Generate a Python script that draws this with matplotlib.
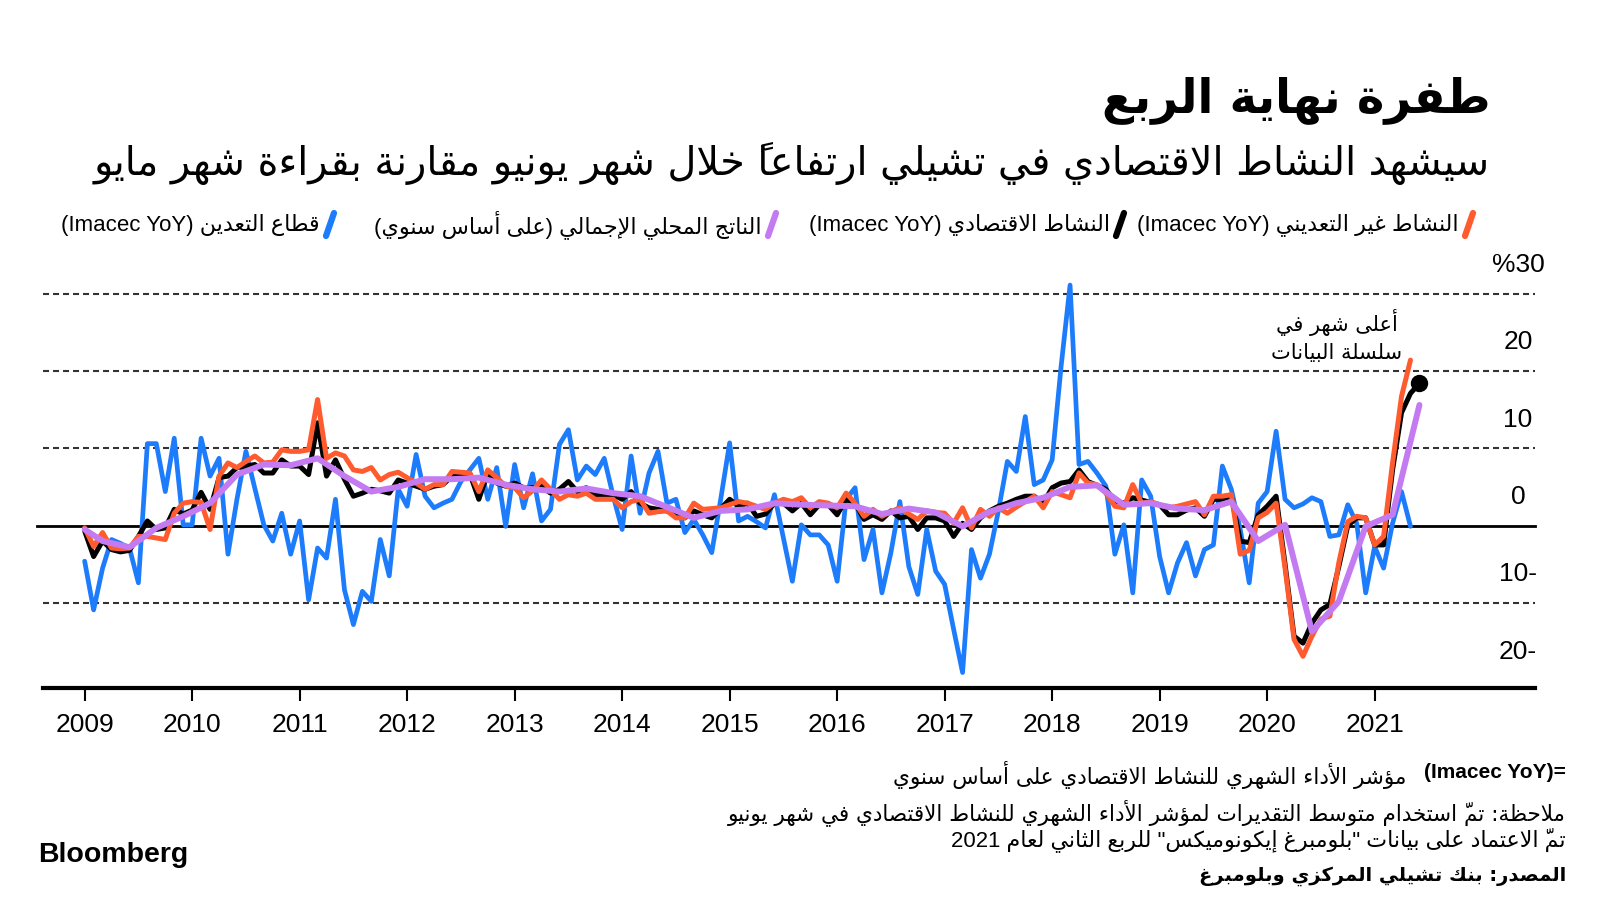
import matplotlib
matplotlib.use('Agg')
import matplotlib.pyplot as plt
from matplotlib.lines import Line2D

plt.rcParams['font.family'] = ['Liberation Sans', 'DejaVu Sans']

# year-on-year %, monthly, index 0 = Jan 2009
non_mining = [-0.3, -2.7, -0.9, -2.9, -3.0, -2.9, -1.4, -1.4, -1.6, -1.8, 1.6, 2.9,
              3.1, 3.0, -0.5, 6.4, 8.1, 7.5, 8.3, 9.0, 8.1, 8.2, 9.8, 9.6,
              9.6, 9.8, 16.3, 8.7, 9.4, 9.0, 7.2, 7.0, 7.5, 5.9, 6.6, 6.9,
              6.2, 5.5, 4.7, 5.3, 5.3, 7.0, 6.9, 6.8, 4.4, 7.2, 6.2, 5.1,
              4.9, 3.6, 4.5, 5.9, 4.7, 3.4, 4.0, 3.8, 4.2, 3.4, 3.4, 3.4,
              2.3, 3.1, 3.4, 1.6, 1.8, 1.9, 1.0, 1.0, 2.9, 2.1, 2.2, 2.3,
              2.7, 3.1, 2.9, 2.5, 2.1, 2.9, 3.4, 3.1, 3.6, 2.3, 3.1, 2.9,
              2.3, 4.2, 2.9, 1.2, 2.1, 1.2, 1.8, 2.3, 1.5, 0.8, 1.9, 1.7,
              1.6, 0.3, 2.3, -0.3, 2.1, 1.2, 2.3, 1.6, 2.4, 3.1, 3.8, 2.3,
              4.4, 4.0, 3.6, 6.8, 5.5, 5.3, 4.2, 2.5, 2.3, 5.3, 2.9, 3.1,
              2.7, 2.3, 2.5, 2.8, 3.1, 1.4, 3.8, 3.8, 4.0, -3.7, -3.2, 1.0,
              1.7, 2.9, -5.5, -14.7, -16.9, -14.3, -12.1, -11.7, -4.8, 0.5, 1.2, 1.0,
              -2.5, -1.4, 8.1, 16.7, 21.4]

imacec = [-0.7, -4.0, -2.0, -3.1, -3.4, -3.2, -1.4, 0.6, -0.5, -0.3, 2.1, 1.5,
          2.0, 4.3, 2.1, 6.2, 6.4, 7.5, 7.7, 7.9, 6.8, 6.8, 8.5, 7.7,
          7.7, 6.6, 13.3, 6.4, 8.5, 6.0, 3.8, 4.2, 4.7, 4.5, 4.2, 5.9,
          5.5, 5.1, 4.7, 5.1, 5.3, 6.4, 6.5, 6.7, 3.4, 6.8, 5.5, 5.1,
          5.5, 4.9, 4.9, 5.1, 4.2, 4.7, 5.7, 4.4, 4.9, 4.0, 4.0, 4.0,
          3.4, 4.4, 2.9, 2.3, 2.1, 1.9, 1.4, 1.0, 1.9, 1.4, 1.0, 2.2,
          3.4, 2.5, 2.9, 1.2, 1.5, 2.9, 2.9, 1.9, 2.9, 1.4, 2.7, 2.7,
          1.4, 3.4, 2.9, 0.8, 1.4, 0.8, 1.9, 1.0, 1.2, -0.5, 1.0, 1.0,
          0.6, -1.4, 0.3, -0.5, 1.0, 1.9, 2.5, 2.9, 3.4, 3.8, 3.8, 2.9,
          4.9, 5.5, 5.7, 7.2, 5.7, 5.2, 4.7, 3.2, 2.9, 3.6, 3.3, 3.0,
          2.7, 1.4, 1.4, 2.0, 2.3, 1.2, 3.4, 3.4, 3.8, -2.0, -2.2, 1.4,
          2.5, 3.8, -5.0, -14.3, -15.2, -12.6, -10.9, -10.2, -5.3, 0.0, 1.0, 1.0,
          -2.5, -2.5, 7.2, 14.6, 17.1, 18.4]

mining = [-4.6, -10.9, -5.5, -1.8, -2.3, -2.9, -7.4, 10.6, 10.6, 4.4, 11.3, 0.1,
          0.1, 11.3, 6.4, 8.7, -3.7, 3.4, 9.6, 4.8, 0.1, -2.0, 1.6, -3.7,
          0.6, -9.6, -2.9, -4.2, 3.4, -8.3, -12.8, -8.5, -9.8, -1.8, -6.5, 4.7,
          2.5, 9.2, 3.8, 2.3, 2.9, 3.4, 5.7, 7.2, 8.7, 3.4, 7.5, -0.1,
          7.9, 2.3, 6.7, 0.6, 2.1, 10.5, 12.4, 5.9, 7.7, 6.6, 8.7, 3.8,
          -0.5, 9.0, 1.6, 6.8, 9.6, 2.9, 3.4, -0.9, 0.8, -1.2, -3.5, 3.4,
          10.7, 0.6, 1.2, 0.5, -0.3, 4.0, -1.6, -7.2, 0.1, -1.2, -1.2, -2.5,
          -7.2, 3.4, 4.9, -4.4, -0.5, -8.7, -3.5, 3.1, -5.3, -8.9, -0.5, -5.9,
          -7.6, -13.4, -19.0, -3.1, -6.8, -3.7, 1.9, 8.3, 7.0, 14.1, 5.3, 5.9,
          8.5, 20.6, 31.1, 7.9, 8.3, 6.8, 5.1, -3.7, 0.1, -8.7, 5.9, 3.8,
          -4.0, -8.7, -4.8, -2.2, -6.5, -3.1, -2.5, 7.7, 4.7, -0.5, -7.4, 2.9,
          4.4, 12.2, 3.4, 2.3, 2.8, 3.6, 3.1, -1.4, -1.2, 2.7, 0.3, -8.7,
          -2.7, -5.5, 0.3, 4.4, -0.1]

# quarterly GDP, plotted at quarter-end months
gdp_months = [0] + list(range(2, 150, 3))
gdp = [-0.5, -2.0, -2.8, -0.3, 1.2, 2.9, 6.6, 7.9, 7.8, 8.7, 6.4, 4.4,
       5.0, 6.0, 6.0, 6.2, 5.3, 4.7, 4.4, 4.8, 4.2, 3.8, 2.4, 1.0,
       1.9, 2.1, 2.9, 2.7, 2.6, 2.5, 1.5, 2.2, 1.7, -0.1, 1.8, 2.9,
       3.6, 5.0, 5.2, 2.7, 2.9, 2.2, 2.0, 3.1, -2.0, 0.1, -13.7, -9.8,
       -0.1, 1.4, 15.6]

years = list(range(2009, 2022))
y_ticks = [30, 20, 10, 0, -10, -20]
y_labels = ['%30', '20', '10', '0', '10-', '20-']

ORANGE = '#ff5b2e'
BLUE = '#1c7cfc'
PURPLE = '#c47bf2'

# ---- minimal arabic shaping (matplotlib has no bidi / joining) ----
AR_FORMS = {
    'ء': (0xFE80, 1), 'آ': (0xFE81, 2), 'أ': (0xFE83, 2), 'ؤ': (0xFE85, 2),
    'إ': (0xFE87, 2), 'ئ': (0xFE89, 4), 'ا': (0xFE8D, 2), 'ب': (0xFE8F, 4),
    'ة': (0xFE93, 2), 'ت': (0xFE95, 4), 'ث': (0xFE99, 4), 'ج': (0xFE9D, 4),
    'ح': (0xFEA1, 4), 'خ': (0xFEA5, 4), 'د': (0xFEA9, 2), 'ذ': (0xFEAB, 2),
    'ر': (0xFEAD, 2), 'ز': (0xFEAF, 2), 'س': (0xFEB1, 4), 'ش': (0xFEB5, 4),
    'ص': (0xFEB9, 4), 'ض': (0xFEBD, 4), 'ط': (0xFEC1, 4), 'ظ': (0xFEC5, 4),
    'ع': (0xFEC9, 4), 'غ': (0xFECD, 4), 'ف': (0xFED1, 4), 'ق': (0xFED5, 4),
    'ك': (0xFED9, 4), 'ل': (0xFEDD, 4), 'م': (0xFEE1, 4), 'ن': (0xFEE5, 4),
    'ه': (0xFEE9, 4), 'و': (0xFEED, 2), 'ى': (0xFEEF, 2), 'ي': (0xFEF1, 4),
}
LAM_ALEF = {'آ': 0xFEF5, 'أ': 0xFEF7, 'إ': 0xFEF9, 'ا': 0xFEFB}
MARKS = set('\u064b\u064c\u064d\u064e\u064f\u0650\u0651\u0652')
MIRROR = {'(': ')', ')': '('}


def kind(c):
    if len(c) == 2:
        return 2
    if c == 'ـ':
        return 4
    return AR_FORMS.get(c, (0, 0))[1]


def ar(text):
    units = []
    for ch in text:
        if ch in MARKS and units:
            units[-1][1] += ch
        else:
            units.append([ch, ''])
    merged = []
    i = 0
    while i < len(units):
        ch, mk = units[i]
        if ch == 'ل' and i + 1 < len(units) and units[i + 1][0] in LAM_ALEF:
            merged.append([ch + units[i + 1][0], mk + units[i + 1][1]])
            i += 2
        else:
            merged.append([ch, mk])
            i += 1
    out = []
    n = len(merged)
    for i, (c, mk) in enumerate(merged):
        k = kind(c)
        pk = kind(merged[i - 1][0]) if i > 0 else 0
        nk = kind(merged[i + 1][0]) if i < n - 1 else 0
        jp = k >= 2 and pk == 4
        jn = k == 4 and nk >= 2
        if len(c) == 2:
            g = chr(LAM_ALEF[c[1]] + (1 if jp else 0))
        elif c in AR_FORMS:
            base = AR_FORMS[c][0]
            if jp and jn:
                g = chr(base + 3)
            elif jp:
                g = chr(base + 1)
            elif jn:
                g = chr(base + 2)
            else:
                g = chr(base)
        else:
            g = MIRROR.get(c, c)
        # zero-width marks in DejaVu sit over the glyph that follows them
        out.append(mk + g)
    return ''.join(reversed(out))


W, H = 1600, 901


def fx(x):
    return x / W


def fy(y):
    return 1 - y / H


fig = plt.figure(figsize=(16, 9.01), dpi=100)
ax = fig.add_axes([fx(43), fy(688), (1535 - 43) / W, (688 - 282) / H])

for v in [30, 20, 10, -10]:
    ax.axhline(v, color='#333333', lw=1.5, dashes=(2.9, 1.9), zorder=1)
ax.axhline(0, color='black', lw=2, xmin=-0.004, clip_on=False, zorder=1)

months = list(range(len(imacec)))
ax.plot(months, imacec, color='black', lw=3.6, solid_capstyle='round', solid_joinstyle='round', zorder=3)
ax.plot(months[:len(non_mining)], non_mining, color=ORANGE, lw=3.6,
        solid_capstyle='round', solid_joinstyle='round', zorder=4)
ax.plot(months[:len(mining)], mining, color=BLUE, lw=3.4,
        solid_capstyle='round', solid_joinstyle='round', zorder=2)
ax.plot(gdp_months, gdp, color=PURPLE, lw=4.3, solid_capstyle='round', solid_joinstyle='round', zorder=5)
ax.plot(months[-1], imacec[-1], 'o', color='black', ms=11.5, zorder=6)

ax.set_xlim(-4.65, 161.9)
ax.set_ylim(-21, 31.5)
for s in ['left', 'right', 'top']:
    ax.spines[s].set_visible(False)
ax.spines['bottom'].set_linewidth(3)
ax.set_yticks([])
ax.set_xticks([12 * i for i in range(len(years))])
ax.set_xticklabels([str(y) for y in years])
ax.tick_params(axis='x', length=9, width=1.5, pad=9, labelsize=19)

for v, lab in zip(y_ticks, y_labels):
    ax.text((1518 - 43) / (1535 - 43), v + 3.7, lab, transform=ax.get_yaxis_transform(),
            ha='center', va='center', fontsize=19, clip_on=False)

# annotation
ax.text(fx(1337), fy(336), ar('أعلى شهر في') + '\n' + ar('سلسلة البيانات'),
        transform=fig.transFigure, ha='center', va='center', fontsize=15,
        family='DejaVu Sans', linespacing=1.5)

# titles
fig.text(fx(1490), fy(100), ar('طفرة نهاية الربع'), ha='right', va='center',
         fontsize=33.5, fontweight='bold', family='DejaVu Sans')
fig.text(fx(1490), fy(163),
         ar('سيشهد النشاط الاقتصادي في تشيلي ارتفاعاً خلال شهر يونيو مقارنة بقراءة شهر مايو'),
         ha='right', va='center', fontsize=28.7, family='DejaVu Sans')

# legend
legend_items = [
    (1469, ORANGE, '(Imacec YoY) ' + ar('النشاط غير التعديني')),
    (1120, 'black', '(Imacec YoY) ' + ar('النشاط الاقتصادي')),
    (772, PURPLE, ar('الناتج المحلي الإجمالي (على أساس سنوي)')),
    (330, BLUE, '(Imacec YoY) ' + ar('قطاع التعدين')),
]
for x, col, lab in legend_items:
    fig.add_artist(Line2D([fx(x - 4), fx(x + 4)], [fy(236), fy(213)], color=col, lw=4.5,
                          solid_capstyle='round', transform=fig.transFigure))
    fig.text(fx(x - 10), fy(225), lab, ha='right', va='center', fontsize=16)

# footnotes
fig.text(fx(1566), fy(773), '(Imacec YoY)=', ha='right', va='center', fontsize=15,
         fontweight='bold')
fig.text(fx(1406), fy(775), ar('مؤشر الأداء الشهري للنشاط الاقتصادي على أساس سنوي'),
         ha='right', va='center', fontsize=15.5, family='DejaVu Sans')
fig.text(fx(1566), fy(813),
         ar('ملاحظة: تمّ استخدام متوسط التقديرات لمؤشر الأداء الشهري للنشاط الاقتصادي في شهر يونيو'),
         ha='right', va='center', fontsize=15.5, family='DejaVu Sans')
fig.text(fx(1566), fy(840),
         '2021 ' + ar('تمّ الاعتماد على بيانات "بلومبرغ إيكونوميكس" للربع الثاني لعام'),
         ha='right', va='center', fontsize=15.9)
fig.text(fx(1566), fy(876), ar('المصدر: بنك تشيلي المركزي وبلومبرغ'), ha='right', va='center',
         fontsize=14, fontweight='bold', family='DejaVu Sans')
fig.text(fx(38), fy(855), 'Bloomberg', ha='left', va='center', fontsize=20.5, fontweight='bold')

fig.savefig('out.png', dpi=100, facecolor='white')
